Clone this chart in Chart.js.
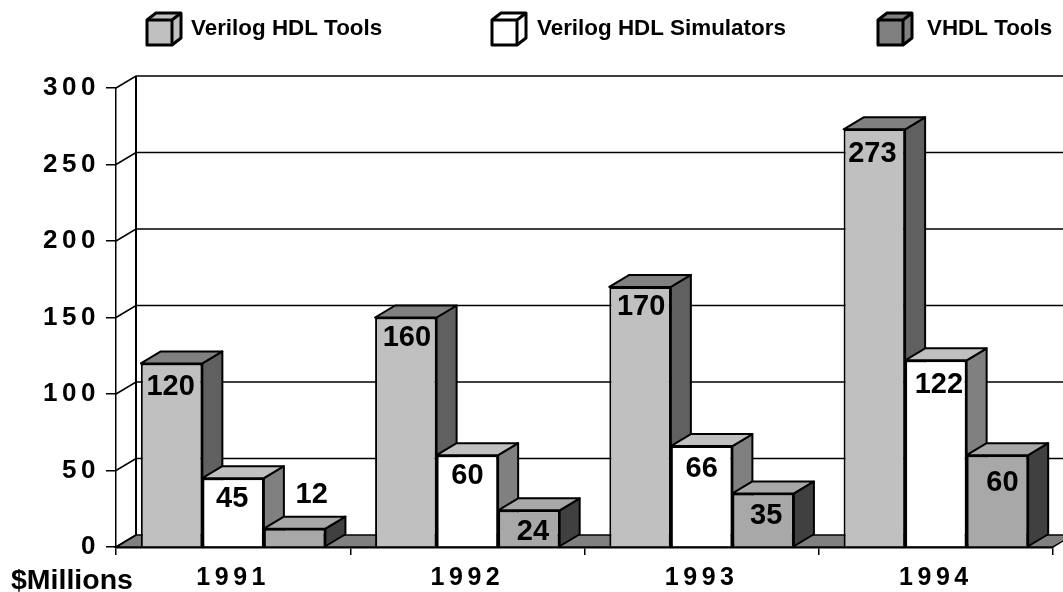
<!DOCTYPE html>
<html>
<head>
<meta charset="utf-8">
<style>
  html, body { margin: 0; padding: 0; background: #fff; }
  #wrap { width: 1063px; height: 592px; }
</style>
<script src="https://cdn.jsdelivr.net/npm/chart.js@4"></script>
</head>
<body>
<div id="wrap"><canvas id="myChart" width="1063" height="592"></canvas></div>
<script>
const years = ['1991', '1992', '1993', '1994'];
const seriesNames = ['Verilog HDL Tools', 'Verilog HDL Simulators', 'VHDL Tools'];

// bar heights (the 1992 bar is drawn lower than its printed label)
const verilogTools = [120, 150, 170, 273];
const verilogSims = [45, 60, 66, 122];
const vhdlTools = [12, 24, 35, 60];

// numbers printed on the bars
const verilogToolsText = ['120', '160', '170', '273'];
const verilogSimsText = ['45', '60', '66', '122'];
const vhdlToolsText = ['12', '24', '35', '60'];

const yTicks = [0, 50, 100, 150, 200, 250, 300];

// colores de cada serie: frente, tapa, lado
const faces = [
    { front: '#C0C0C0', top: '#808080', side: '#606060' },
    { front: '#FFFFFF', top: '#C0C0C0', side: '#808080' },
    { front: '#A8A8A8', top: '#A8A8A8', side: '#404040' }
];
const legendFills = ['#C0C0C0', '#FFFFFF', '#808080'];
const legendX = [147, 492, 878];
const legendTextX = [191, 537, 927];

const depthX = 20;
const depthY = 12;

// distance from bar top / centre to each printed number
const labelNudge = [
    [[-1, 24], [1, 20], [1, 20], [-2, 25]],
    [[-1, 21], [0, 21], [0, 23], [3, 25]],
    [[17, -34], [4, 22], [3, 23], [5, 28]]
];
const labelTexts = [verilogToolsText, verilogSimsText, vhdlToolsText];

function poly(ctx, pts, fill) {
    ctx.beginPath();
    pts.forEach((p, i) => i ? ctx.lineTo(p[0], p[1]) : ctx.moveTo(p[0], p[1]));
    ctx.closePath();
    ctx.fillStyle = fill;
    ctx.fill();
    ctx.stroke();
}

const box3d = {
    id: 'box3d',
    beforeDraw(chart) {
        // separa los digitos de los ejes
        chart.ctx.letterSpacing = '4.5px';
    },
    beforeDatasetsDraw(chart) {
        const ctx = chart.ctx;
        const y = chart.scales.y;
        const a = chart.chartArea;
        ctx.letterSpacing = '0px';
        ctx.save();
        ctx.strokeStyle = '#000';
        ctx.lineWidth = 1.5;
        // suelo
        const y0 = y.getPixelForValue(0);
        poly(ctx, [[a.left, y0], [a.left + depthX, y0 - depthY], [a.right + depthX, y0 - depthY], [a.right, y0]], '#808080');
        // pared del fondo
        yTicks.forEach(v => {
            const py = y.getPixelForValue(v);
            ctx.beginPath();
            ctx.moveTo(a.left, py);
            ctx.lineTo(a.left + depthX, py - depthY);
            if (v > 0) ctx.lineTo(1063, py - depthY);
            ctx.stroke();
        });
        ctx.lineWidth = 2;
        ctx.beginPath();
        ctx.moveTo(a.left + depthX, y.getPixelForValue(300) - depthY);
        ctx.lineTo(a.left + depthX, y0 - depthY);
        ctx.stroke();
        // lados y tapas, de izquierda a derecha; los frentes se pintan despues
        ctx.lineJoin = 'round';
        faces.forEach((f, s) => {
            chart.getDatasetMeta(s).data.forEach(bar => {
                const l = bar.x - bar.width / 2;
                const r = bar.x + bar.width / 2;
                poly(ctx, [[r, bar.y], [r + depthX, bar.y - depthY], [r + depthX, bar.base - depthY], [r, bar.base]], f.side);
                poly(ctx, [[l, bar.y], [l + depthX, bar.y - depthY], [r + depthX, bar.y - depthY], [r, bar.y]], f.top);
            });
        });
        ctx.restore();
    },
    afterDatasetsDraw(chart) {
        const ctx = chart.ctx;
        ctx.save();
        ctx.fillStyle = '#000';
        ctx.textAlign = 'center';
        ctx.textBaseline = 'middle';
        ctx.font = 'bold 29px "Liberation Sans"';
        labelTexts.forEach((texts, s) => {
            chart.getDatasetMeta(s).data.forEach((bar, i) => {
                const n = labelNudge[s][i];
                ctx.fillText(texts[i], bar.x + n[0], bar.y + n[1]);
            });
        });
        ctx.restore();
    },
    afterDraw(chart) {
        const ctx = chart.ctx;
        ctx.save();
        // leyenda
        ctx.font = 'bold 22.4px "Liberation Sans"';
        ctx.textBaseline = 'middle';
        seriesNames.forEach((name, i) => {
            const x = legendX[i];
            ctx.strokeStyle = '#000';
            ctx.lineWidth = 3;
            ctx.lineJoin = 'round';
            poly(ctx, [[x, 20], [x + 9, 13], [x + 34, 13], [x + 34, 38], [x + 25, 45], [x, 45]], legendFills[i]);
            ctx.beginPath();
            ctx.moveTo(x, 20);
            ctx.lineTo(x + 25, 20);
            ctx.lineTo(x + 25, 45);
            ctx.moveTo(x + 25, 20);
            ctx.lineTo(x + 34, 13);
            ctx.stroke();
            ctx.fillStyle = '#000';
            ctx.fillText(name, legendTextX[i], 29);
        });
        ctx.font = 'bold 28.5px "Liberation Sans"';
        ctx.textAlign = 'left';
        ctx.fillText('$Millions', 11, 581);
        ctx.restore();
    }
};

const data = {
    labels: years,
    datasets: [verilogTools, verilogSims, vhdlTools].map((values, i) => ({
        label: seriesNames[i],
        data: values,
        backgroundColor: faces[i].front,
        borderColor: '#000000',
        borderWidth: 2,
        categoryPercentage: 0.788,
        barPercentage: 1
    }))
};

const config = {
    type: 'bar',
    data: data,
    options: {
        responsive: false,
        animation: false,
        events: [],
        layout: { padding: { top: 88, right: 10, bottom: 0, left: 0 } },
        plugins: {
            legend: { display: false },
            tooltip: { enabled: false }
        },
        scales: {
            x: {
                afterFit: axis => { axis.height = 45; },
                ticks: {
                    color: '#000000',
                    padding: 8,
                    font: { family: '"Liberation Sans"', size: 25, weight: 'bold' }
                },
                grid: { drawOnChartArea: false, color: '#000000', lineWidth: 1.5, tickLength: 8 },
                border: { color: '#000000', width: 2.5 }
            },
            y: {
                min: 0,
                max: 300,
                afterBuildTicks: axis => { axis.ticks = yTicks.map(v => ({ value: v })); },
                afterFit: axis => { axis.width = 116; },
                ticks: {
                    color: '#000000',
                    padding: 6,
                    font: { family: '"Liberation Sans"', size: 26, weight: 'bold' }
                },
                grid: { drawOnChartArea: false, color: '#000000', lineWidth: 1.5, tickLength: 10 },
                border: { color: '#000000', width: 1.5 }
            }
        }
    },
    plugins: [box3d]
};

new Chart(document.getElementById('myChart'), config);
</script>
</body>
</html>
